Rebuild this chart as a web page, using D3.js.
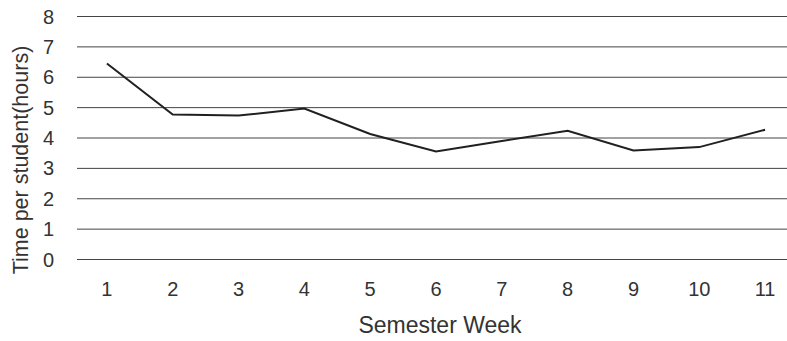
<!DOCTYPE html>
<html lang="en">
<head>
    <meta charset="UTF-8">
    <title>Time per student by semester week</title>
    <script src="https://cdn.jsdelivr.net/npm/d3@7"></script>
    <style>
        body { margin: 0; background: #fff; }
        * { font-family: 'Liberation Sans', Arial, sans-serif; }
        .grid line { stroke: #444; stroke-width: 1; }
        .tick-label { fill: #333; font-size: 20px; }
        .title { fill: #333; }
    </style>
</head>
<body>
<script>
    // chart values
    const weeks = ["1", "2", "3", "4", "5", "6", "7", "8", "9", "10", "11"];
    const hours = [6.45, 4.77, 4.74, 4.97, 4.13, 3.56, 3.9, 4.24, 3.59, 3.7, 4.27];
    const yTicks = [0, 1, 2, 3, 4, 5, 6, 7, 8];

    const width = 787, height = 341;

    const svg = d3.select("body").append("svg")
        .attr("width", width).attr("height", height);

    const x = d3.scaleBand().domain(weeks).range([74, 798]);
    const y = d3.scaleLinear().domain([0, 8]).range([259.5, 16.5]);

    // horizontal grid lines
    svg.append("g").attr("class", "grid")
        .selectAll("line")
        .data(yTicks)
        .join("line")
        .attr("x1", 77).attr("x2", width)
        .attr("y1", d => y(d)).attr("y2", d => y(d));

    // y labels
    svg.append("g")
        .selectAll("text")
        .data(yTicks)
        .join("text")
        .attr("class", "tick-label")
        .attr("x", 54)
        .attr("y", d => y(d))
        .attr("dy", "0.35em")
        .attr("text-anchor", "end")
        .text(d => d);

    // x labels
    svg.append("g")
        .selectAll("text")
        .data(weeks)
        .join("text")
        .attr("class", "tick-label")
        .attr("x", d => x(d) + x.bandwidth() / 2)
        .attr("y", 296)
        .attr("text-anchor", "middle")
        .text(d => d);

    const line = d3.line()
        .x((d, i) => x(weeks[i]) + x.bandwidth() / 2)
        .y(d => y(d));

    svg.append("path")
        .datum(hours)
        .attr("d", line)
        .attr("fill", "none")
        .attr("stroke", "#231f20")
        .attr("stroke-width", 2);

    svg.append("text")
        .attr("class", "title")
        .attr("x", 440).attr("y", 333)
        .attr("text-anchor", "middle")
        .style("font-size", "23px")
        .text("Semester Week");

    svg.append("text")
        .attr("class", "title")
        .attr("transform", "translate(28,160) rotate(-90)")
        .attr("text-anchor", "middle")
        .style("font-size", "21.5px")
        .text("Time per student(hours)");
</script>
</body>
</html>
